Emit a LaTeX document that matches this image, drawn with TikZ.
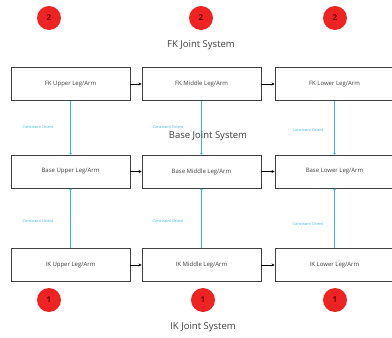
\documentclass[tikz,border=0pt]{standalone}
\usepackage{fontspec}
\setmainfont{Open Sans}
\usetikzlibrary{arrows.meta}
\definecolor{cyanl}{RGB}{60,180,210}
\definecolor{redc}{RGB}{240,35,35}
\begin{document}
\begin{tikzpicture}[x=1pt,y=-1pt,
  box/.style={draw=black!75,line width=0.9pt,minimum width=119pt,minimum height=33pt,inner sep=0pt,font=\fontsize{6}{7}\selectfont,text=black!75},
  badge/.style={circle,fill=redc,minimum size=24pt,inner sep=0pt,font=\fontsize{8}{9}\selectfont\bfseries,text=black!60!red},
  title/.style={font=\fontsize{9.5}{11}\selectfont,text=black!75},
  flow/.style={-{Stealth[length=3pt,width=3pt]},line width=0.9pt,black},
  con/.style={-{Circle[length=2.2pt]},cyanl,line width=0.8pt},
  clab/.style={font=\fontsize{3.8}{4.5}\selectfont,text=cyanl}]
\useasboundingbox[fill=white] (0,0) rectangle (392,338);
% badges
\node[badge] (t1) at (49,18) {2};
\node[badge] (t2) at (201,18) {2};
\node[badge] (t3) at (335,18) {2};
\node[badge] (b1) at (49,300) {1};
\node[badge] (b2) at (203,300) {1};
\node[badge] (b3) at (335,300) {1};
% titles
\node[title] (fkt) at (201,45) {FK Joint System};
\node[title] (ikt) at (203,327) {IK Joint System};
% boxes
\node[box] (fk1) at (70.5,84) {FK Upper Leg/Arm};
\node[box] (fk2) at (201.5,84) {FK Middle Leg/Arm};
\node[box] (fk3) at (334.5,84) {FK Lower Leg/Arm};
\node[box] (ba1) at (70.5,171.5) {Base Upper Leg/Arm};
\node[box] (ba2) at (201.5,171.5) {Base Middle Leg/Arm};
\node[box] (ba3) at (334.5,171.5) {Base Lower Leg/Arm};
\node[box] (ik1) at (70.5,265) {IK Upper Leg/Arm};
\node[box] (ik2) at (201.5,265) {IK Middle Leg/Arm};
\node[box] (ik3) at (334.5,265) {IK Lower Leg/Arm};
% horizontal arrows
\foreach \r in {fk,ba,ik}{
  \draw[flow] (\r1) -- (\r2);
  \draw[flow] (\r2) -- (\r3);
}
% constraint lines
\foreach \c in {1,2,3}{
  \draw[con] (fk\c.south) -- (ba\c.north);
  \draw[con] (ik\c.north) -- (ba\c.south);
}
\node[clab] (l1) at (38,127) {Constraint Orient};
\node[clab] (l2) at (168,127) {Constraint Orient};
\node[clab] (l3) at (308,130) {Constraint Orient};
\node[clab] (l4) at (38,221) {Constraint Orient};
\node[clab] (l5) at (168,221) {Constraint Orient};
\node[clab] (l6) at (308,224) {Constraint Orient};
\node[title] (bat) at (208,136) {Base Joint System};
\end{tikzpicture}
\end{document}
